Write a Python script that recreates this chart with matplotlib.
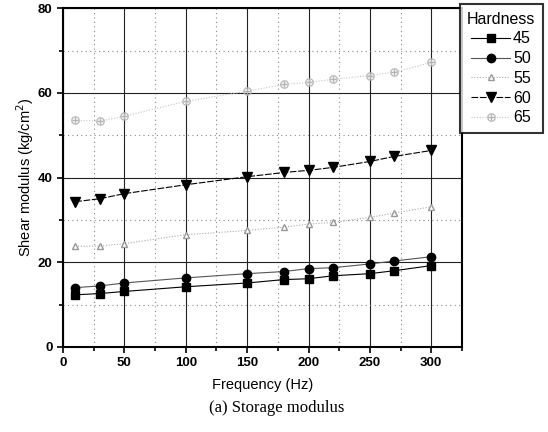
import matplotlib
matplotlib.use('Agg')
import matplotlib.pyplot as plt
from matplotlib.ticker import MultipleLocator

# Data (frequency in Hz, shear modulus in kg/cm^2)
freq = [10, 30, 50, 100, 150, 180, 200, 220, 250, 270, 300]
h45 = [12.3, 12.6, 13.1, 14.2, 15.1, 15.9, 16.1, 16.8, 17.3, 18.0, 19.2]
h50 = [14.0, 14.4, 15.1, 16.3, 17.3, 17.8, 18.5, 18.7, 19.6, 20.3, 21.3]
h55 = [23.8, 23.8, 24.4, 26.5, 27.5, 28.3, 29.0, 29.4, 30.6, 31.6, 33.1]
h60 = [34.3, 35.0, 36.2, 38.3, 40.2, 41.2, 41.7, 42.4, 43.8, 45.0, 46.4]
h65 = [53.5, 53.3, 54.5, 58.0, 60.4, 62.0, 62.5, 63.2, 64.1, 64.9, 67.2]
labels = ['45', '50', '55', '60', '65']

plt.rcParams['font.family'] = ['Liberation Sans', 'DejaVu Sans']

fig = plt.figure(figsize=(5.48, 4.32), dpi=100)
ax = fig.add_axes([0.115, 0.197, 0.728, 0.784])

# ===== grids =====
ax.xaxis.set_major_locator(MultipleLocator(50))
ax.xaxis.set_minor_locator(MultipleLocator(25))
ax.yaxis.set_major_locator(MultipleLocator(20))
ax.yaxis.set_minor_locator(MultipleLocator(10))
ax.grid(True, which='major', color='#222222', linewidth=0.8, linestyle='-')
ax.grid(True, which='minor', color='#888888', linewidth=0.8, linestyle=(0, (1, 3)))
ax.set_axisbelow(True)

# ===== series =====
ax.plot(freq, h45, color='black', linestyle='-', linewidth=0.8,
        marker='s', markersize=6, label=labels[0])
ax.plot(freq, h50, color='#555555', linestyle='-', linewidth=0.8,
        marker='o', markersize=6, markerfacecolor='black', markeredgecolor='black', label=labels[1])
ax.plot(freq, h55, color='#aaaaaa', linestyle=(0, (1, 1.5)), linewidth=0.8,
        marker='^', markersize=5, markerfacecolor='white', markeredgecolor='#999999', label=labels[2])
ax.plot(freq, h60, color='black', linestyle=(0, (6, 1.5)), linewidth=0.8,
        marker='v', markersize=7, label=labels[3])
ax.plot(freq, h65, color='#c4c4c4', linestyle=(0, (1, 1.5)), linewidth=0.8,
        marker=r'$\oplus$', markersize=6, markeredgewidth=0.2,
        markerfacecolor='#b4b4b4', markeredgecolor='#b4b4b4', label=labels[4])

ax.set_xlim(0, 325)
ax.set_ylim(0, 80)

for sp in ax.spines.values():
    sp.set_linewidth(1.5)
ax.tick_params(which='both', direction='out', width=1.2)
ax.tick_params(which='major', length=4, labelsize=9.5)
ax.tick_params(which='minor', length=3)
for t in ax.get_xticklabels() + ax.get_yticklabels():
    t.set_fontweight('bold')
ax.set_xticks([0, 50, 100, 150, 200, 250, 300])

ax.set_xlabel('Frequency (Hz)', fontsize=10.5, labelpad=6)
ax.set_ylabel('Shear modulus (kg/cm$^2$)', fontsize=10.5, labelpad=1)

leg = fig.legend(title='Hardness', loc='upper left', bbox_to_anchor=(0.839, 0.99),
                 fontsize=11.5, title_fontsize=11.5, frameon=True, fancybox=False,
                 edgecolor='black', handlelength=2.4, handletextpad=0.2,
                 labelspacing=0.3, borderpad=0.45, borderaxespad=0)
leg.get_frame().set_linewidth(1.5)

fig.text(0.505, 0.055, '(a) Storage modulus', ha='center', va='center',
         fontsize=12, family=['Liberation Serif', 'DejaVu Serif'])

fig.savefig('out.png', dpi=100, facecolor='white')
